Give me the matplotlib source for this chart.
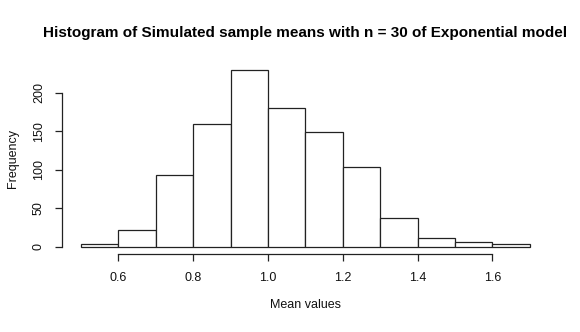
import matplotlib
matplotlib.use("Agg")
import matplotlib.pyplot as plt

# Bin edges and counts of the simulated sample means (1000 simulations)
bin_edges = [0.5, 0.6, 0.7, 0.8, 0.9, 1.0, 1.1, 1.2, 1.3, 1.4, 1.5, 1.6, 1.7]
counts = [4, 22, 93, 159, 230, 180, 149, 104, 38, 11, 6, 4]
x_ticks = [0.6, 0.8, 1.0, 1.2, 1.4, 1.6]
y_ticks = [0, 50, 100, 150, 200]

plt.rcParams["font.family"] = ["Liberation Sans", "DejaVu Sans"]

fig = plt.figure(figsize=(5.8, 3.32), dpi=100)
ax = fig.add_axes([0.1086, 0.235, 0.836, 0.577])

ax.hist(bin_edges[:-1], bins=bin_edges, weights=counts,
        facecolor="white", edgecolor="#222222", linewidth=0.9)

# R-style axis ranges (4% padding)
xr = bin_edges[-1] - bin_edges[0]
ax.set_xlim(bin_edges[0] - 0.04 * xr, bin_edges[-1] + 0.04 * xr)
ymax = max(counts)
ax.set_ylim(-0.04 * ymax, ymax * 1.04)

for side in ("top", "right"):
    ax.spines[side].set_visible(False)
ax.spines["left"].set_bounds(y_ticks[0], y_ticks[-1])
ax.spines["bottom"].set_bounds(x_ticks[0], x_ticks[-1])
ax.spines["left"].set_position(("outward", 1))
for s in ("left", "bottom"):
    ax.spines[s].set_linewidth(0.9)
    ax.spines[s].set_color("#222222")

ax.set_xticks(x_ticks)
ax.set_xticklabels([f"{v:.1f}" for v in x_ticks])
ax.set_yticks(y_ticks)
ax.set_yticklabels([str(v) for v in y_ticks], rotation=90, va="center")
ax.tick_params(axis="both", length=5, width=0.9, color="#222222",
               labelsize=9, pad=8, labelcolor="#111111")
ax.tick_params(axis="y", pad=7)

ax.set_xlabel("Mean values", fontsize=9, labelpad=11, color="#111111")
ax.set_ylabel("Frequency", fontsize=9, labelpad=10, color="#111111")
ax.set_title("Histogram of Simulated sample means with n = 30 of Exponential model",
             fontsize=11, fontweight="bold", pad=18)

fig.savefig("out.png", dpi=100, facecolor="white")
